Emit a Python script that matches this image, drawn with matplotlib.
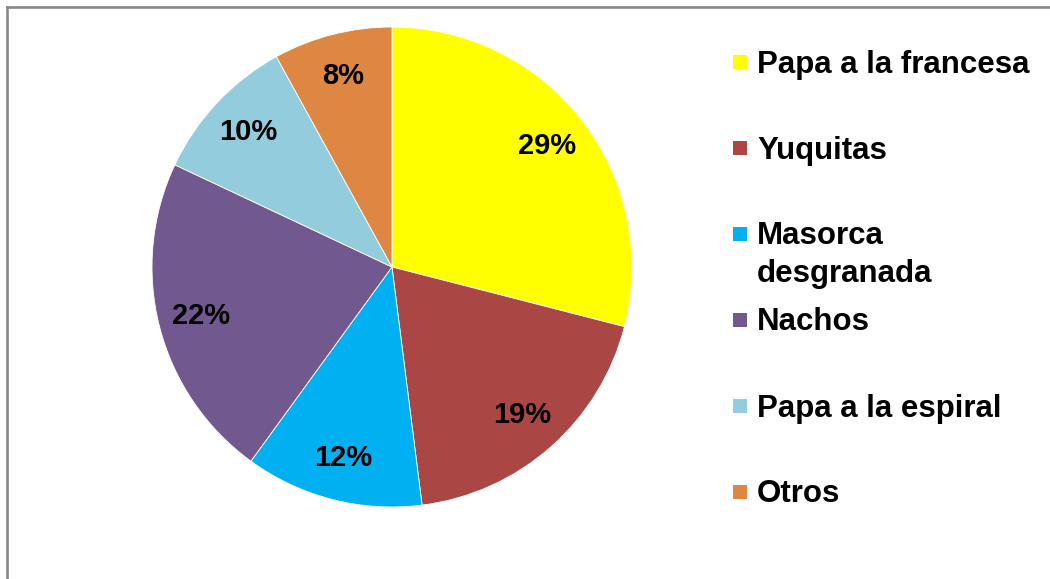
import matplotlib.pyplot as plt
from matplotlib.lines import Line2D
from matplotlib.patches import Rectangle

categories = ["Papa a la francesa", "Yuquitas", "Masorca\ndesgranada",
              "Nachos", "Papa a la espiral", "Otros"]
values = [29, 19, 12, 22, 10, 8]
colors = ["#FFFF00", "#AA4643", "#00B0F0", "#71588F", "#93CDDD", "#DE8742"]

W, H = 1050, 579
fig = plt.figure(figsize=(W / 100, H / 100), dpi=100)
fig.patch.set_facecolor("white")

font = ["Liberation Sans", "DejaVu Sans"]

# pie area: centre (392, 267) px, radius 240 px
cx, cy, r = 392, 267, 240
ax = fig.add_axes([(cx - r) / W, (H - cy - r) / H, 2 * r / W, 2 * r / H])
wedges, texts, autotexts = ax.pie(
    values, colors=colors, startangle=90, counterclock=False,
    autopct=lambda p: f"{p:.0f}%", pctdistance=0.82,
    wedgeprops=dict(edgecolor="white", linewidth=0.6),
    textprops=dict(fontsize=21, fontweight="bold", family=font, color="black"),
)
ax.set_xlim(-1, 1)
ax.set_ylim(-1, 1)
ax.set_aspect("equal")
ax.axis("off")

# legend drawn on the figure
y0, step = 62, 86
for i, (lab, col) in enumerate(zip(categories, colors)):
    y = y0 + step * i
    fig.patches.append(Rectangle((733 / W, 1 - (y + 7) / H), 14 / W, 14 / H,
                                 transform=fig.transFigure, facecolor=col,
                                 edgecolor="none"))
    fig.text(757 / W, 1 - (y - 12.5) / H, lab, ha="left", va="top",
             fontsize=22.5, fontweight="bold", family=font, color="black",
             linespacing=1.33)

# frame lines along the top and left
fig.add_artist(Line2D([7 / W, 1.0], [1 - 7 / H, 1 - 7 / H],
                      transform=fig.transFigure, color="#888888", lw=1.9))
fig.add_artist(Line2D([7 / W, 7 / W], [0, 1 - 7 / H],
                      transform=fig.transFigure, color="#888888", lw=1.9))

fig.savefig("out.png", dpi=100)
